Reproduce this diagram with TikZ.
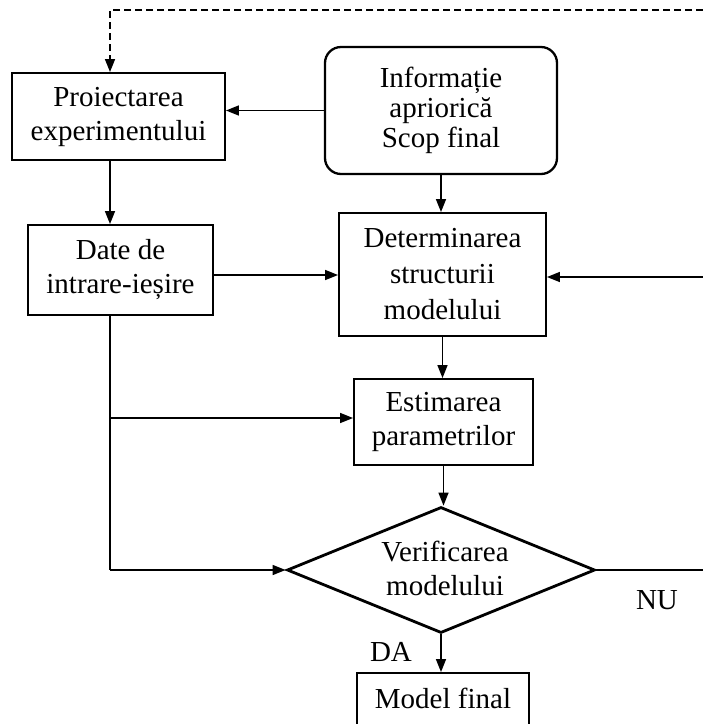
\documentclass[tikz,border=0pt]{standalone}
\usepackage{fontspec}
\setmainfont{Liberation Serif}
\usetikzlibrary{arrows.meta,shapes.geometric}
\begin{document}
\begin{tikzpicture}[x=1pt,y=-1pt,
  txt/.style={font=\fontsize{29}{34}\selectfont},
  box/.style={draw, line width=1.9pt, inner sep=0pt, align=center, txt},
  conn/.style={line width=1.5pt, -{Triangle[length=13pt,width=10pt]}},
  plain/.style={line width=1.5pt},
  fback/.style={line width=1.3pt, dash pattern=on 7pt off 4pt, -{Triangle[length=13pt,width=10pt]}},
]
\useasboundingbox (0,0) rectangle (703,724);
\clip (0,0) rectangle (703,724);

% process blocks
\node[box, minimum width=213pt, minimum height=87pt] (proi) at (118.5,116.5) {Proiectarea\\experimentului};
\node[box, rounded corners=16pt, line width=2.3pt, minimum width=232pt, minimum height=127pt,
      font=\fontsize{29}{30}\selectfont] (info) at (441,110.5) {Informație\\apriorică\\Scop final};
\node[box, minimum width=185pt, minimum height=90pt] (date) at (120.5,270) {Date de\\intrare-ieșire};
\node[box, minimum width=207pt, minimum height=123pt,
      font=\fontsize{29}{36}\selectfont] (det) at (442.5,274.5) {Determinarea\\structurii\\modelului};
\node[box, minimum width=179pt, minimum height=86pt] (est) at (443.5,422) {Estimarea\\parametrilor};

% decision
\node[diamond, draw, line width=2.8pt, minimum width=308pt, minimum height=126pt, inner sep=0pt] (ver) at (441,570) {};
\node[align=center, inner sep=0pt, txt] (verlbl) at (445,568) {Verificarea\\modelului};

% final model (box runs past the lower edge)
\node[draw, line width=1.9pt, inner sep=0pt, minimum width=172pt, text height=35pt, text depth=60pt,
      anchor=base, txt] (model) at (443,708) {Model final};

% branch labels
\node[txt, inner sep=0pt] (nu) at (657,600) {NU};
\node[txt, inner sep=0pt] (da) at (391,652) {DA};

% helper points on the left bus and the right edge
\coordinate (lx) at (110,0);
\coordinate (fbtop) at (703,10);
\coordinate (fbdet) at (703,277);
\coordinate (br) at (110,418);
\coordinate (nuend) at (703,570);

% connectors
\draw[fback] (fbtop) -| (proi.north -| lx);
\draw[conn] (info.west) -- (info.west -| proi.east);
\draw[conn] (proi.south -| lx) -- (date.north -| lx);
\draw[conn] (info.south) -- (info.south |- det.north);
\draw[conn] ([yshift=-5pt]date.east) -- ([yshift=-5pt]date.east -| det.west);
\draw[conn] (fbdet) -- (fbdet -| det.east);
\draw[conn] (det.south) -- (det.south |- est.north);
\draw[plain] (date.south -| lx) -- (lx |- ver.west);
\draw[conn] (lx |- ver.west) -- (ver.west);
\draw[conn] (br) -- (br -| est.west);
\draw[conn] (est.south) -- (est.south |- ver.north);
\draw[plain] (ver.east) -- (nuend);
\draw[conn] (ver.south) -- (ver.south |- model.north);
\end{tikzpicture}
\end{document}
